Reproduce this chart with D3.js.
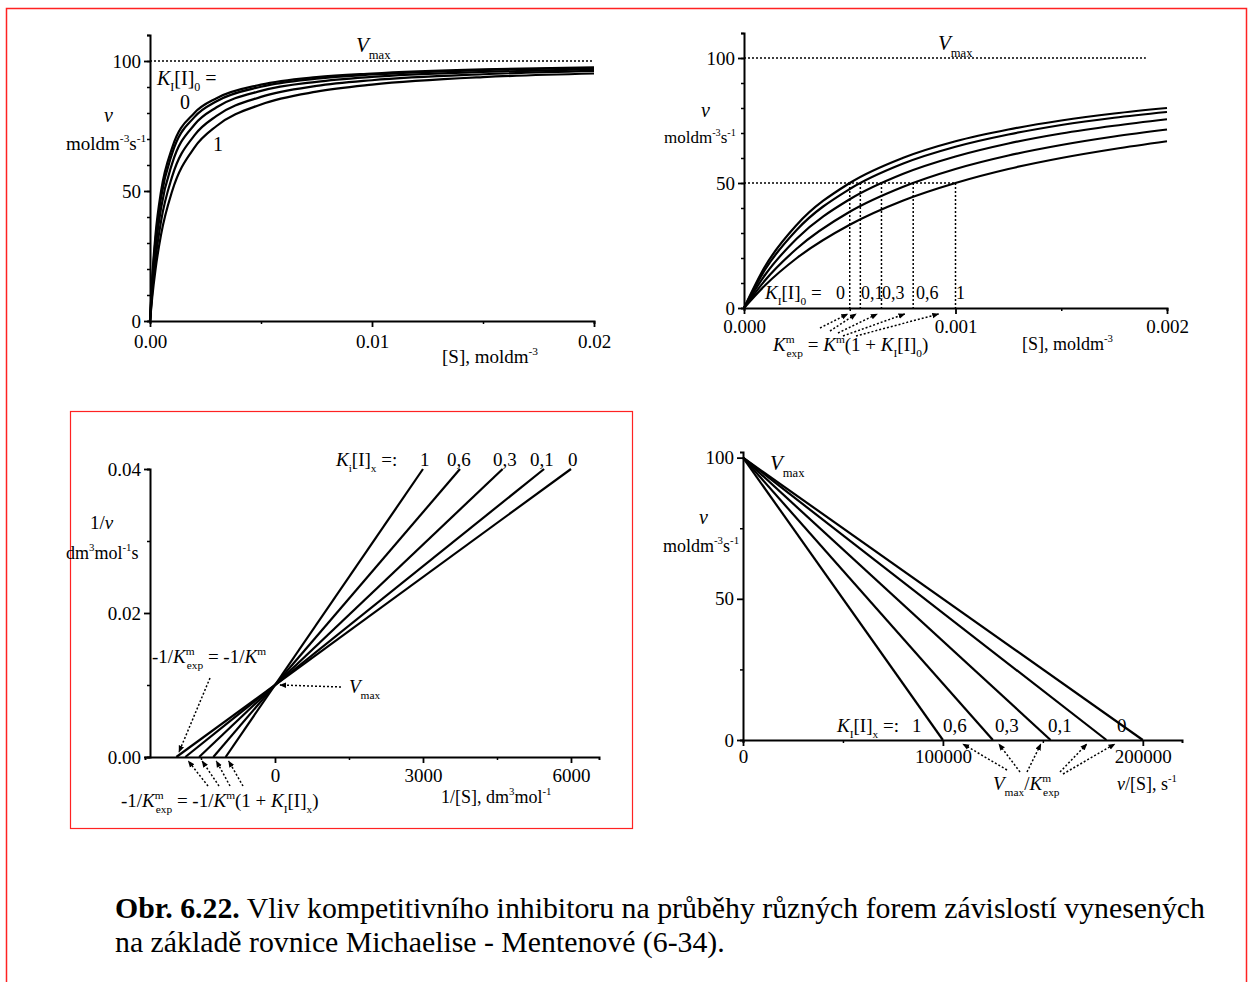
<!DOCTYPE html>
<html>
<head>
<meta charset="utf-8">
<script src="https://cdn.jsdelivr.net/npm/d3@7"></script>
<style>
  body { margin: 0; background: #fff; }
  text { font-family: "Liberation Serif", "DejaVu Serif", serif; fill: #000; }
</style>
</head>
<body>
<svg width="1249" height="982"></svg>
<script>
// ---- data ----
const kiLabels = ["0", "0,1", "0,3", "0,6", "1"];
const kmExp = [0.0005, 0.00055, 0.00065, 0.0008, 0.001]; // where the curves cross v = 50
const vmax = 100;

// v vs [S], wide range (top left)
const sWide = [0, 0.0001, 0.00025, 0.0005, 0.001, 0.002, 0.003, 0.005, 0.0075, 0.01, 0.015, 0.02];
const vWide = [
  [0, 16.7, 33.3, 50.0, 66.7, 80.0, 85.7, 90.9, 93.8, 95.2, 96.8, 97.6],
  [0, 15.4, 31.3, 47.6, 64.5, 78.4, 84.5, 90.1, 93.2, 94.8, 96.5, 97.3],
  [0, 13.3, 27.8, 43.5, 60.6, 75.5, 82.2, 88.5, 92.0, 93.9, 95.8, 96.9],
  [0, 11.1, 23.8, 38.5, 55.6, 71.4, 78.9, 86.2, 90.4, 92.6, 94.9, 96.2],
  [0, 9.1, 20.0, 33.3, 50.0, 66.7, 75.0, 83.3, 88.2, 90.9, 93.8, 95.2]
];

// v vs [S], narrow range (top right)
const sNarrow = [0, 0.0001, 0.00025, 0.0005, 0.00075, 0.001, 0.00125, 0.0015, 0.00175, 0.002];
const vNarrow = [
  [0, 16.7, 33.3, 50.0, 60.0, 66.7, 71.4, 75.0, 77.8, 80.0],
  [0, 15.4, 31.3, 47.6, 57.7, 64.5, 69.4, 73.2, 76.1, 78.4],
  [0, 13.3, 27.8, 43.5, 53.6, 60.6, 65.8, 69.8, 72.9, 75.5],
  [0, 11.1, 23.8, 38.5, 48.4, 55.6, 61.0, 65.2, 68.6, 71.4],
  [0, 9.1, 20.0, 33.3, 42.9, 50.0, 55.6, 60.0, 63.6, 66.7]
];

// Lineweaver-Burk (bottom left): from x-intercept (1/v = 0) up to 1/v = 0.04
const lbStart = [-2000, -1818, -1538, -1250, -1000];
const lbEnd = [6000, 5455, 4615, 3750, 3000];
const lbTop = 0.04;

// Eadie-Hofstee (bottom right): from (0, Vmax) to x-intercept
const ehEnd = [200000, 181818, 153846, 125000, 100000];

const caption1 = "Vliv kompetitivního inhibitoru na průběhy různých forem závislostí vynesených";
const caption2 = "na základě rovnice Michaelise - Mentenové (6-34).";

// ---- drawing ----
const svg = d3.select("svg");
const defs = svg.append("defs");
defs.append("marker")
  .attr("id", "arr")
  .attr("viewBox", "0 0 10 10")
  .attr("refX", 9).attr("refY", 5)
  .attr("markerWidth", 7).attr("markerHeight", 7)
  .attr("markerUnits", "userSpaceOnUse")
  .attr("orient", "auto")
  .append("path").attr("d", "M0,1 L10,5 L0,9 Z").attr("fill", "#000");

// frame + red box round the lower left plot
svg.append("rect").attr("x", 6.5).attr("y", 8.5).attr("width", 1240).attr("height", 980)
  .attr("fill", "none").attr("stroke", "#f22").attr("stroke-width", 1.5);
svg.append("rect").attr("x", 70.5).attr("y", 411.5).attr("width", 562).attr("height", 417)
  .attr("fill", "none").attr("stroke", "#f22").attr("stroke-width", 1.2);

// text with italics, sub- and superscripts
function rich(x, y, parts, size, anchor) {
  const t = svg.append("text").attr("x", x).attr("y", y)
    .attr("font-size", size).attr("text-anchor", anchor || "start");
  let shift = 0;
  parts.forEach(p => {
    const s = typeof p === "string" ? p : p[0];
    const k = typeof p === "string" ? [] : p[1].split(" ");
    const ts = t.append("tspan").text(s);
    let target = 0;
    if (k.includes("sub")) { target = size * 0.32; ts.attr("font-size", size * 0.6); }
    if (k.includes("sup")) { target = -size * 0.42; ts.attr("font-size", size * 0.6); }
    if (target - shift !== 0) ts.attr("dy", target - shift);
    shift = target;
    if (k.includes("i")) ts.attr("font-style", "italic");
    if (k.includes("b")) ts.attr("font-weight", "bold");
    if (typeof p !== "string" && p[2]) ts.attr("dx", p[2]);
  });
  return t;
}

function drawAxis(axisFn, scale, major, minor, fmt, tr, pad) {
  const g = svg.append("g").attr("transform", tr);
  g.call(axisFn(scale).tickValues(minor).tickSize(3).tickFormat(""));
  g.select(".domain").attr("stroke-width", 2);
  const gm = svg.append("g").attr("transform", tr);
  gm.call(axisFn(scale).tickValues(major).tickSize(6).tickSizeOuter(0).tickPadding(pad || 3).tickFormat(fmt));
  gm.select(".domain").remove();
  g.selectAll("line").attr("stroke-width", 1.5);
  gm.selectAll("line").attr("stroke-width", 1.8);
  gm.selectAll("text").attr("font-family", "Liberation Serif").attr("font-size", 19).attr("fill", "#000");
  return gm;
}

function dotted(x1, y1, x2, y2, arrow) {
  const l = svg.append("line").attr("x1", x1).attr("y1", y1).attr("x2", x2).attr("y2", y2)
    .attr("stroke", "#000").attr("stroke-width", 1.5).attr("stroke-dasharray", "2,2");
  if (arrow) l.attr("marker-end", "url(#arr)");
}

const curve = d3.line().curve(d3.curveMonotoneX);

// ===== top left: v vs [S] =====
const xA = d3.scaleLinear().domain([0, 0.02]).range([150, 594]);
const yA = d3.scaleLinear().domain([0, 110]).range([321, 35]);
drawAxis(d3.axisBottom, xA, [0, 0.01, 0.02], [0.005, 0.015], d3.format(".2f"), "translate(0,321)", 8);
drawAxis(d3.axisLeft, yA, [0, 50, 100], d3.range(10, 111, 10), d3.format("d"), "translate(150,0)");
dotted(xA(0), yA(vmax), xA(0.02), yA(vmax));
vWide.forEach(vs => {
  svg.append("path").attr("d", curve(sWide.map((s, i) => [xA(s), yA(vs[i])])))
    .attr("fill", "none").attr("stroke", "#000").attr("stroke-width", 2.2);
});
rich(356, 52, [["V", "i"], ["max", "sub"]], 21);
rich(157, 85, [["K", "i"], ["I", "sub"], "[I]", ["0", "sub"], " ="], 20);
rich(180, 109, [kiLabels[0]], 20);
rich(213, 151, [kiLabels[4]], 20);
rich(104, 122, [["v", "i"]], 20);
rich(66, 150, ["moldm", ["-3", "sup"], "s", ["-1", "sup"]], 19);
rich(442, 363, ["[S], moldm", ["-3", "sup"]], 19);

// ===== top right: v vs [S], zoomed =====
const xB = d3.scaleLinear().domain([0, 0.002]).range([744, 1167]);
const yB = d3.scaleLinear().domain([0, 110]).range([308, 33]);
drawAxis(d3.axisBottom, xB, [0, 0.001, 0.002], [0.0005, 0.0015], d3.format(".3f"), "translate(0,308)", 6);
drawAxis(d3.axisLeft, yB, [0, 50, 100], d3.range(10, 111, 10), d3.format("d"), "translate(744,0)");
dotted(xB(0), yB(vmax), xB(0.0019), yB(vmax));
dotted(xB(0), yB(vmax / 2), xB(d3.max(kmExp)), yB(vmax / 2));
kmExp.forEach(k => dotted(xB(k), yB(vmax / 2), xB(k), yB(0)));
vNarrow.forEach(vs => {
  svg.append("path").attr("d", curve(sNarrow.map((s, i) => [xB(s), yB(vs[i])])))
    .attr("fill", "none").attr("stroke", "#000").attr("stroke-width", 2.2);
});
rich(938, 50, [["V", "i"], ["max", "sub"]], 21);
rich(765, 299, [["K", "i"], ["I", "sub"], "[I]", ["0", "sub"], " ="], 19);
const kiPosB = [836, 861, 882, 916, 956];
kiLabels.forEach((l, i) => rich(kiPosB[i], 299, [l], 18));
const arrB = [[820, 328], [830, 331], [838, 333], [843, 336], [856, 336]];
const arrBEnd = [0.00049, 0.00053, 0.00063, 0.00076, 0.00092];
arrB.forEach((p, i) => dotted(p[0], p[1], xB(arrBEnd[i]), 314, true));
rich(773, 351, [["K", "i"], ["m", "sup"], ["exp", "sub", -8], " = ", ["K", "i"], ["m", "sup"], "(1 + ", ["K", "i"], ["I", "sub"], "[I]", ["0", "sub"], ")"], 19);
rich(701, 117, [["v", "i"]], 20);
rich(664, 143, ["moldm", ["-3", "sup"], "s", ["-1", "sup"]], 17);
rich(1022, 350, ["[S],  moldm", ["-3", "sup"]], 18);

// ===== bottom left: Lineweaver-Burk =====
const xC = d3.scaleLinear().domain([-2635, 6568]).range([145, 599]);
const yC = d3.scaleLinear().domain([0, 0.04]).range([757, 469]);
drawAxis(d3.axisBottom, xC, [0, 3000, 6000], [-1500, 1500, 4500], d3.format("d"), "translate(0,757)")
  .selectAll("text").attr("dy", "0.85em");
drawAxis(d3.axisLeft, yC, [0, 0.02, 0.04], [0.01, 0.03], d3.format(".2f"), "translate(150,0)");
lbStart.forEach((s, i) => {
  svg.append("line").attr("x1", xC(s)).attr("y1", yC(0)).attr("x2", xC(lbEnd[i])).attr("y2", yC(lbTop))
    .attr("stroke", "#000").attr("stroke-width", 2.2);
});
rich(336, 466, [["K", "i"], ["i", "sub"], "[I]", ["x", "sub"], " =:"], 19);
const kiPosC = [568, 530, 493, 447, 420];
kiLabels.forEach((l, i) => rich(kiPosC[i], 466, [l], 19));
rich(152, 663, ["-1/", ["K", "i"], ["m", "sup"], ["exp", "sub", -8], " = -1/", ["K", "i"], ["m", "sup"]], 19);
dotted(210, 678, 179, 752, true);
rich(349, 693, [["V", "i"], ["max", "sub"]], 19);
dotted(341, 687, 280, 685, true);
const lbArrStart = [[208, 786], [219, 786], [230, 786], [243, 786]];
lbArrStart.forEach((p, i) => dotted(p[0], p[1], xC(lbStart[i + 1]) + 3, 761, true));
rich(121, 807, ["-1/", ["K", "i"], ["m", "sup"], ["exp", "sub", -8], " = -1/", ["K", "i"], ["m", "sup"], "(1 + ", ["K", "i"], ["I", "sub"], "[I]", ["x", "sub"], ")"], 19);
rich(90, 529, ["1/", ["v", "i"]], 19);
rich(66, 559, ["dm", ["3", "sup"], "mol", ["-1", "sup"], "s"], 18);
rich(441, 803, ["1/[S],  dm", ["3", "sup"], "mol", ["-1", "sup"]], 18);

// ===== bottom right: Eadie-Hofstee =====
const xD = d3.scaleLinear().domain([0, 219600]).range([743, 1182]);
const yD = d3.scaleLinear().domain([0, 102]).range([740, 452]);
drawAxis(d3.axisBottom, xD, [0, 100000, 200000], [50000, 150000], d3.format("d"), "translate(0,740)", 4);
drawAxis(d3.axisLeft, yD, [0, 50, 100], [25, 75], d3.format("d"), "translate(743,0)");
ehEnd.forEach(e => {
  svg.append("line").attr("x1", xD(0)).attr("y1", yD(vmax)).attr("x2", xD(e)).attr("y2", yD(0))
    .attr("stroke", "#000").attr("stroke-width", 2.2);
});
rich(770, 470, [["V", "i"], ["max", "sub"]], 21);
rich(699, 524, [["v", "i"]], 20);
rich(663, 552, ["moldm", ["-3", "sup"], "s", ["-1", "sup"]], 18);
rich(837, 732, [["K", "i"], ["I", "sub"], "[I]", ["x", "sub"], " =: "], 19);
const kiPosD = [1117, 1048, 995, 943, 912];
kiLabels.forEach((l, i) => rich(kiPosD[i], 732, [l], 19));
const ehArrStart = [[1063, 774], [1060, 772], [1027, 772], [1020, 772], [1007, 770]];
const ehArrEnd = [186000, 172000, 149000, 128000, 110000];
ehArrStart.forEach((p, i) => dotted(p[0], p[1], xD(ehArrEnd[i]), 744, true));
rich(993, 790, [["V", "i"], ["max", "sub"], "/", ["K", "i"], ["m", "sup"], ["exp", "sub", -8]], 19);
rich(1117, 790, [["v", "i"], "/[S], ", " s", ["-1", "sup"]], 18);

// ===== caption =====
rich(115, 918, [["Obr. 6.22.", "b"], "  " + caption1], 29.8);
rich(115, 952, [caption2], 29.8);
</script>
</body>
</html>
